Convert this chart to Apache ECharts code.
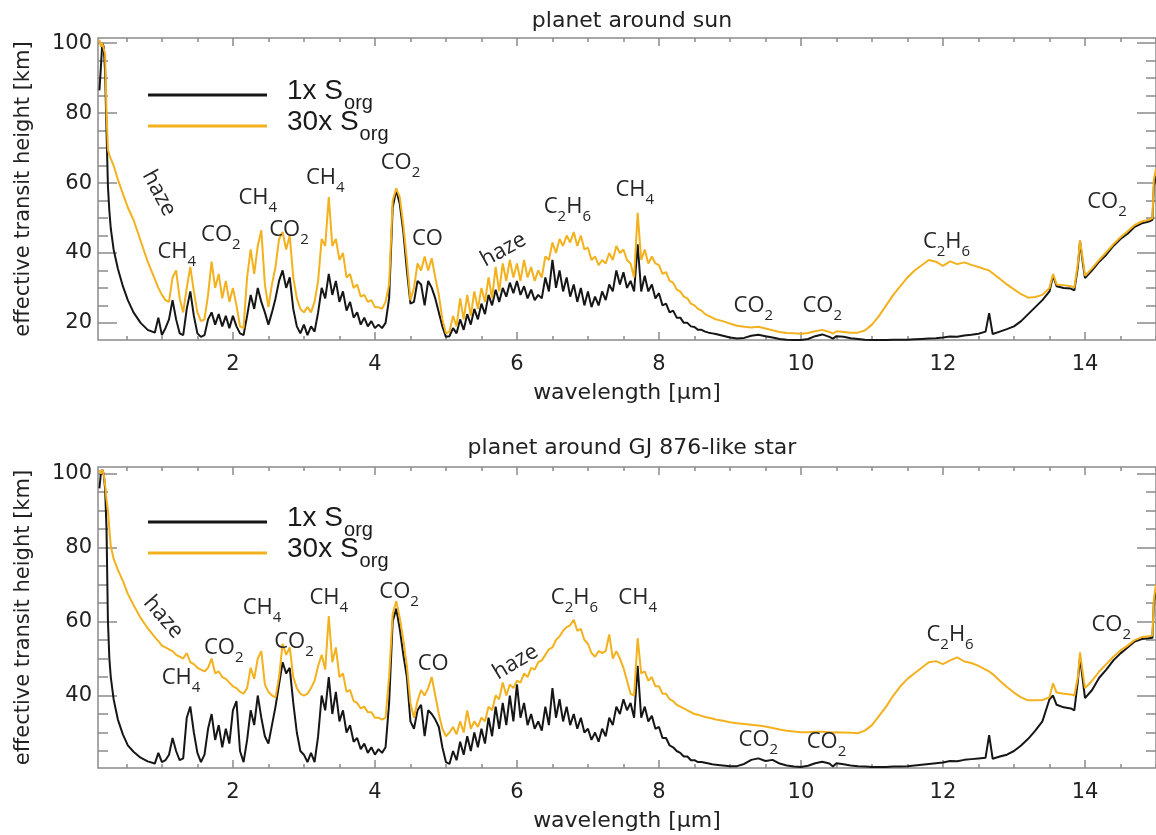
<!DOCTYPE html>
<html>
<head>
<meta charset="utf-8">
<script src="https://cdn.jsdelivr.net/npm/echarts@6/dist/echarts.min.js"></script>
<style>html,body{margin:0;padding:0;background:#fff;}#c{width:1156px;height:835px;}</style>
</head>
<body>
<div id="c"></div>
<script>
// ---------- data ----------
const wavelength = [
 0.12,0.14,0.16,0.18,0.2,0.22,0.24,0.26,0.28,0.32,0.38,0.45,0.52,0.6,0.7,0.8,0.9,0.95,
 1.00,1.05,1.10,1.15,1.20,1.25,1.30,1.35,1.40,1.45,
 1.50,1.55,1.60,1.65,1.70,1.75,1.80,1.85,1.90,1.95,
 2.00,2.05,2.10,2.15,2.20,2.25,2.30,2.35,2.40,2.45,
 2.50,2.55,2.60,2.65,2.70,2.75,2.80,2.85,2.90,2.95,
 3.00,3.05,3.10,3.15,3.20,3.25,3.30,3.35,3.40,3.45,
 3.50,3.55,3.60,3.65,3.70,3.75,3.80,3.85,3.90,3.95,
 4.00,4.05,4.10,4.15,4.20,4.25,4.30,4.35,4.40,4.45,
 4.50,4.55,4.60,4.65,4.70,4.75,4.80,4.85,4.90,4.95,
 5.00,5.05,5.10,5.15,5.20,5.25,5.30,5.35,5.40,5.45,
 5.50,5.55,5.60,5.65,5.70,5.75,5.80,5.85,5.90,5.95,
 6.00,6.05,6.10,6.15,6.20,6.25,6.30,6.35,6.40,6.45,
 6.50,6.55,6.60,6.65,6.70,6.75,6.80,6.85,6.90,6.95,
 7.00,7.05,7.10,7.15,7.20,7.25,7.30,7.35,7.40,7.45,
 7.50,7.55,7.60,7.65,7.70,7.75,7.80,7.85,7.90,7.95,
 8.00,8.05,8.10,8.15,8.20,8.25,8.30,8.35,8.40,8.45,
 8.50,8.55,8.60,8.65,8.70,8.75,8.80,
 8.9,9.0,9.1,9.2,9.3,9.4,9.5,9.6,9.7,9.8,
 9.9,10.0,10.1,10.2,10.3,10.4,10.45,10.5,10.6,10.7,
 10.8,10.9,11.0,11.1,11.2,11.3,11.4,11.5,11.6,11.7,
 11.8,11.9,12.0,12.1,12.2,12.3,12.4,12.5,12.6,12.65,
 12.7,12.8,12.9,13.0,13.1,13.2,13.3,13.4,13.5,13.55,
 13.6,13.7,13.8,13.85,13.9,13.93,13.97,14.0,14.1,14.2,
 14.3,14.4,14.5,14.6,14.7,14.8,14.9,14.95,14.97,15.0
];

// planet around sun, 1x S_org (black)
const sunLow = [
 86.5,93,100,99,92,75,59,52,47,41,35.5,30.5,26.5,23,20,18,17.2,21.5,
 16.5,18.5,21,26.5,21,17,16.5,24,29,22,
 17,16,16.5,21,23,19.5,22.5,19,22,18.5,
 22,19,17,16.5,22,28,24,30,26,23,
 19.5,23,27,32,35,30,33,24,19,17,
 19.5,16.5,19,17.5,23,30,27,34,28,32,
 26,29,23.5,26,21.5,23,19.5,21.5,19,20.5,
 18.5,19.5,18.5,20,27,53,58,54,46,35,
 25.5,26,32,31,25,32,30,27,23,19,
 16,16.2,18.5,17,21,18,22.5,19.5,24,21,
 25.5,22.5,28,25,29.5,26,30,27.5,31.5,28.5,
 32,28,30.5,27,29.5,26.5,28,27,33,29,
 38,30,35,29,33,27.5,31,26,30,25,
 29,24.5,27.5,25,29,26.5,31,29,35,31,
 34.5,30,32,29,42.5,29,33.5,29,31,27,
 28.5,25,25.5,23,23.5,21.5,21.5,20,20,19,
 18.8,18,18,17.5,17.2,17,16.8,
 16.3,15.8,15.5,15.7,16.3,16.6,16.2,15.8,15.4,15.2,
 15.1,15.1,15.4,16.2,16.7,16.0,15.5,16.2,16.0,15.6,
 15.4,15.2,15.1,15.1,15.1,15.2,15.2,15.2,15.3,15.4,
 15.5,15.6,15.8,16.1,16.0,16.4,16.6,16.9,17.5,22.8,
 16.8,17.5,18.2,19,20.5,22.5,24.5,26.5,29,33.5,
 30.5,30,29.8,29.3,36,43.3,37,32.8,35,37.5,
 39.5,42,44,45.5,47.5,48.5,49,49.5,59,62
];

// planet around sun, 30x S_org (orange)
const sunHigh = [
 101,99,100,98.5,97,80,69.5,68,67,65,61,57,53,49.5,43.5,37.5,32.5,30,
 28,26.5,26,33,35,27,23,30,36,29,
 23,20.5,21,28,37.5,30,34,27,32,26,
 30,25,19,18.5,33,41,34,42,46.5,31,
 24.5,31,36,44,46,41,45,33,27,24,
 23,24.5,23,26,32,44,42,56,42,44,
 38,40,33,34,30,31,27.5,28,26,26.5,
 24.5,24.5,24,26,31,55,58.5,56,48,38,
 26.5,30,37,35,39,35,38.5,33,28,21,
 17,17.5,22,19,27,21,28,22,29,24,
 30,26,33,27,36,29,37,32,38,33,
 37,32,38,33,36,32,35,33,39,38,
 43,40,44,42,45,43,46,42,45,41,
 41.5,38,39,36.5,38,37,40,38,42,40,
 41,38,37,33,51.5,38,41,37,39,37,
 36.5,34,34.5,32,31.5,29.5,29,27.5,27,25.5,
 25,24,23.5,22.5,22,21.5,21,
 20.5,19.8,19.2,18.9,18.7,18.9,18.4,17.9,17.4,17.1,
 17.0,16.9,17.1,17.6,18.0,17.4,16.9,17.6,17.4,17.2,
 17.2,17.8,19.5,22,25,28,30.5,33,35,36.5,
 38,37.5,36.3,37.6,36.8,37.3,36.6,36,35.3,35,
 34.2,32.6,31,29.6,28.2,27.2,27.4,28,30,34,
 31,30.8,30.5,30.1,37,43.7,38,33.5,35.6,38,
 40.2,42.5,44.5,46.2,48,49,49.5,50,61,64
];

// planet around GJ 876-like star, 1x S_org (black)
const gjLow = [
 96,100,101,100,96,85,60,50,45,39,33.5,29.5,26.5,24.8,23.2,22.2,21.6,24.5,
 22,22.5,24,28.5,25,22.5,23,34,37,30,
 24.5,22,24,31,35,28,32,26,31,27,
 36,38.5,25,22,28,36,32,40,34,29,
 27,32,37,43,49,46,47.5,38,30,25,
 24,22,24.5,22,29,40,36,45,35,41,
 33,36,30,32,27.5,28.5,25.5,27,24.5,26,
 24,25.5,24.5,26,38,60,63.5,58,51,45,
 33,31,36,37.5,29,36,35,33.5,31.5,26,
 22,21.5,25,22.5,27.5,24,29,25,30,26,
 31,27,34,29,37,31,38,32,40,33,
 43,34,38,32,35,31,33,30.5,37,32,
 42,34,39,33,37,32,35,31,34,30,
 31,28,30,27.5,31,29,34,32,37,35,
 39,36,38,34,48,34,37,33,34.5,31,
 31.5,28.5,28.5,26.5,26,25,24.5,23.5,23.5,22.5,
 22.5,22,22,21.8,21.6,21.4,21.3,
 21.1,20.9,20.9,21.5,22.6,23,22.3,22.6,21.6,21.1,
 20.8,20.7,21,21.7,22.1,21.6,20.8,21.7,21.4,21.1,
 20.9,20.8,20.7,20.7,20.7,20.8,20.8,20.9,21.1,21.3,
 21.5,21.7,21.9,22.3,22.2,22.6,22.8,23,23.2,29.3,
 22.9,23.5,24,25,26.5,28.3,30.5,33,39,40,
 37.5,36.8,36.5,36,44,50.4,44,39.3,41.5,44.8,
 47,49.5,51.4,53,54.6,55.3,55.5,55.6,65,69
];

// planet around GJ 876-like star, 30x S_org (orange)
const gjHigh = [
 101,100,101,100,97,93,90,85,80.5,77,74,71,67.5,64.5,61,58.2,55.8,54.7,
 53.5,53,52.5,52,51,50.5,50,51.5,49,48.5,
 47.5,47,46.5,47.5,50,46,46.5,45,44.5,43.5,
 42.5,42,41,40.5,42,47.5,44.5,50,52,43,
 41,40,39.5,45,54,51,53,45,42,40.5,
 40,40.5,42,44,48,51,47,61.5,49,53,
 45,46,41,41.5,38.5,38,36.5,37,35.5,35.5,
 34,34,33.5,34,45,62,65.5,61,55,48,
 38,34,38.5,41.5,40,42,45,40,35,31,
 29,30,31.5,29.5,33,30,36,31,33,31.5,
 34,33,37,36,40,39,43.5,40,43,42,
 44,43.5,46,45,47.5,47,49,49.5,51,52.5,
 53,55,56,57.5,58.5,59,60.5,57.5,58,55,
 54,51.5,50.5,52,51.5,52,56.5,50,52,50,
 47.5,44,40.5,40,55.5,46,46.5,44,45,42.5,
 42.5,40.5,40.5,39,38.5,37.5,37,36.5,36,35.5,
 35,34.8,34.5,34.2,34,33.8,33.5,
 33.2,32.8,32.5,32.3,32.1,31.9,31.6,31.2,30.8,30.5,
 30.3,30.1,30.1,30.2,30.2,30.1,30.0,30.1,30.0,29.9,
 29.8,30.5,32,34.5,37,40,42.5,44.5,46,47.5,
 49,49.3,48.5,49.5,50.3,49.2,48.8,48,47,46.5,
 45.8,44,42.3,40.8,39.5,38.7,38.7,38.8,39.5,43.3,
 40.8,40.5,40.3,40,45,51.7,46,42,44,46.5,
 48.5,50.5,52.2,53.5,55,55.8,56,56.2,66,70
];

const xMajorTicks = [2,4,6,8,10,12,14];
const xMinorTicks = [0.5,1,1.5,2.5,3,3.5,4.5,5,5.5,6.5,7,7.5,8.5,9,9.5,10.5,11,11.5,12.5,13,13.5,14.5,15];
const sunYMajor = [20,40,60,80,100];
const sunYMinor = [20,25,30,35,40,45,50,55,60,65,70,75,80,85,90,95,100];
const gjYMajor = [40,60,80,100];
const gjYMinor = [25,30,35,40,45,50,55,60,65,70,75,80,85,90,95,100];

const titles = ['planet around sun', 'planet around GJ 876-like star'];
const seriesNames = ['1x', '30x'];

// annotations: [text, wavelength, height, angle]
const sunNotes = [
 ['haze',0.96,57.1,-62],['CH4',1.21,40.3,0],['CO2',1.83,45.1,0],['CH4',2.35,55.7,0],
 ['CO2',2.79,46.6,0],['CH4',3.30,61.4,0],['CO2',4.36,65.7,0],['CO',4.74,44,0],
 ['haze',5.81,40.9,29],['C2H6',6.71,53.1,0],['CH4',7.66,58,0],['CO2',9.33,24.9,0],
 ['CO2',10.30,24.9,0],['C2H6',12.05,43.2,0],['CO2',14.31,54.6,0]
];
const gjNotes = [
 ['haze',1.02,61.2,-49],['CH4',1.27,44.7,0],['CO2',1.87,52.8,0],['CH4',2.41,63.6,0],
 ['CO2',2.86,54.4,0],['CH4',3.35,66.3,0],['CO2',4.34,67.9,0],['CO',4.82,48.7,0],
 ['haze',5.98,49,31],['C2H6',6.81,66.3,0],['CH4',7.70,66.3,0],['CO2',9.40,27.9,0],
 ['CO2',10.36,27.4,0],['C2H6',12.10,56.3,0],['CO2',14.37,59,0]
];

// ---------- chart ----------
const BLACK = '#161616', ORANGE = '#F3B11E', FRAME = '#8a8a8a', TXT = '#222', NOTE = '#262626';
const chart = echarts.init(document.getElementById('c'), null, {renderer:'canvas'});

const grids = [
 {left:98, top:38, width:1061, height:302, show:true, borderColor:FRAME, borderWidth:1.5},
 {left:98, top:467, width:1061, height:301, show:true, borderColor:FRAME, borderWidth:1.5}
];
const yRanges = [[15.1,101.5],[20.4,101.8]];
const yMaj = [sunYMajor, gjYMajor], yMin = [sunYMinor, gjYMinor];

const xAxes = [], yAxes = [];
function tick(len, vals){ return {show:true, inside:true, length:len, customValues:vals, lineStyle:{color:FRAME, width:1.5}}; }
for (let g=0; g<2; g++){
  const base = {gridIndex:g, type:'value', min:0.1, max:15, axisLine:{show:false}, splitLine:{show:false}};
  xAxes.push(Object.assign({}, base, {position:'bottom', axisTick:tick(8,xMajorTicks),
    axisLabel:{show:true, customValues:xMajorTicks, margin:14, fontSize:21, fontFamily:'DejaVu Sans', color:TXT},
    name:'wavelength [\u03bcm]', nameLocation:'middle', nameGap:42,
    nameTextStyle:{fontSize:22, fontFamily:'DejaVu Sans', color:TXT}}));
  xAxes.push(Object.assign({}, base, {position:'bottom', axisTick:tick(4,xMinorTicks), axisLabel:{show:false}}));
  xAxes.push(Object.assign({}, base, {position:'top', axisTick:tick(8,xMajorTicks), axisLabel:{show:false}}));
  xAxes.push(Object.assign({}, base, {position:'top', axisTick:tick(4,xMinorTicks), axisLabel:{show:false}}));
  const yb = {gridIndex:g, type:'value', min:yRanges[g][0], max:yRanges[g][1], axisLine:{show:false}, splitLine:{show:false}};
  yAxes.push(Object.assign({}, yb, {position:'left', axisTick:tick(19,yMaj[g]),
    axisLabel:{show:true, customValues:yMaj[g], margin:6, fontSize:21, fontFamily:'DejaVu Sans', color:TXT},
    name:'effective transit height [km]', nameLocation:'middle', nameGap:64,
    nameTextStyle:{fontSize:21, fontFamily:'DejaVu Sans', color:TXT}}));
  yAxes.push(Object.assign({}, yb, {position:'left', axisTick:tick(10,yMin[g]), axisLabel:{show:false}}));
  yAxes.push(Object.assign({}, yb, {position:'right', axisTick:tick(19,yMaj[g]), axisLabel:{show:false}}));
  yAxes.push(Object.assign({}, yb, {position:'right', axisTick:tick(10,yMin[g]), axisLabel:{show:false}}));
}

function pairs(vals){ return wavelength.map((w,i)=>[w, vals[i]]); }
function toRich(t){ return t.replace(/([A-Za-z]+)|(\d+)/g, (m,a,b)=> a ? '{m|'+a+'}' : '{s|'+b+'}'); }
const noteRich = {
  m:{fontFamily:'Open Sans', fontSize:22, color:NOTE, verticalAlign:'top'},
  s:{fontFamily:'Open Sans', fontSize:15, color:NOTE, verticalAlign:'bottom', padding:[13.5,0,0,0]}
};
function noteData(notes){
  return notes.map(n => ({value:[n[1], n[2]], text:n[0],
    label:{rotate:n[3], offset:[0, /\d/.test(n[0]) ? 3 : 0]}}));
}

const series = [];
const lows = [sunLow, gjLow], highs = [sunHigh, gjHigh], notes = [sunNotes, gjNotes];
for (let g=0; g<2; g++){
  series.push({name:seriesNames[0], type:'line', xAxisIndex:4*g, yAxisIndex:4*g, data:pairs(lows[g]),
    showSymbol:false, symbol:'none', lineStyle:{color:BLACK, width:2}, itemStyle:{color:BLACK}, z:2});
  series.push({name:seriesNames[1], type:'line', xAxisIndex:4*g, yAxisIndex:4*g, data:pairs(highs[g]),
    showSymbol:false, symbol:'none', lineStyle:{color:ORANGE, width:2}, itemStyle:{color:ORANGE}, z:3});
  series.push({name:'notes'+g, type:'scatter', xAxisIndex:4*g, yAxisIndex:4*g, symbolSize:0, silent:true, z:5,
    itemStyle:{opacity:1},
    data:noteData(notes[g]),
    label:{show:true, position:'inside', align:'center', verticalAlign:'middle', color:NOTE, opacity:1,
      formatter:p=>toRich(p.data.text), rich:noteRich}});
}

const legendRich = {
  a:{fontFamily:'Liberation Sans', fontSize:28, color:'#1a1a1a', verticalAlign:'top', padding:[0,0,0,15]},
  b:{fontFamily:'Liberation Sans', fontSize:20, color:'#1a1a1a', verticalAlign:'bottom', padding:[16,0,0,1]}
};
function legendFor(name, top){
  return {data:[name], left:148, top:top, padding:0, icon:'rect', itemWidth:119, itemHeight:3,
    formatter:n=>'{a|'+n+' S}{b|org}', textStyle:{rich:legendRich}};
}

const lengths = [sunLow, sunHigh, gjLow, gjHigh].map(a=>a.length);
const bad = lengths.some(l=>l!==wavelength.length);

chart.setOption({
  animation:false,
  backgroundColor:'#fff',
  title:[
    {text:titles[0], left:627, top:5, textAlign:'center', textStyle:{fontSize:22, fontWeight:'normal', fontFamily:'DejaVu Sans', color:TXT}},
    {text:bad ? ('LEN '+wavelength.length+' '+lengths.join(',')) : titles[1], left:627, top:432, textAlign:'center', textStyle:{fontSize:22, fontWeight:'normal', fontFamily:'DejaVu Sans', color:bad?'red':TXT}}
  ],
  legend:[legendFor('1x',77), legendFor('30x',108), legendFor('1x',504), legendFor('30x',535)],
  grid:grids,
  xAxis:xAxes,
  yAxis:yAxes,
  series:series
});
</script>
</body>
</html>
